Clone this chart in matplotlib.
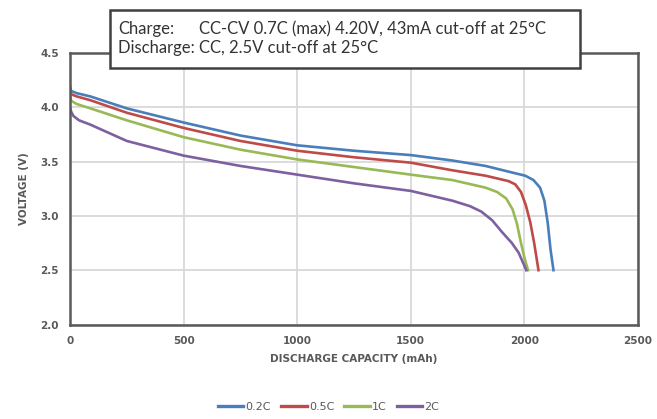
import matplotlib
matplotlib.use("Agg")
import matplotlib.pyplot as plt
from matplotlib.patches import Rectangle

# Data
cap_02c = [0, 5, 30, 90, 250, 500, 750, 1000, 1250, 1500, 1683, 1829, 1945, 2004, 2040, 2069, 2088, 2103, 2115, 2128]
v_02c = [4.19, 4.15, 4.13, 4.10, 3.99, 3.86, 3.74, 3.65, 3.60, 3.56, 3.51, 3.46, 3.40, 3.37, 3.33, 3.26, 3.14, 2.93, 2.69, 2.50]

cap_05c = [0, 5, 30, 90, 250, 500, 750, 1000, 1250, 1500, 1683, 1829, 1931, 1960, 1985, 2006, 2026, 2043, 2062]
v_05c = [4.17, 4.12, 4.10, 4.065, 3.95, 3.81, 3.69, 3.60, 3.54, 3.49, 3.42, 3.37, 3.32, 3.29, 3.22, 3.10, 2.94, 2.75, 2.50]

cap_1c = [0, 5, 30, 90, 250, 500, 750, 1000, 1250, 1500, 1683, 1829, 1880, 1920, 1948, 1967, 1985, 2002, 2016]
v_1c = [4.13, 4.06, 4.03, 3.99, 3.88, 3.725, 3.61, 3.52, 3.45, 3.38, 3.33, 3.26, 3.22, 3.16, 3.06, 2.93, 2.75, 2.60, 2.50]

cap_2c = [0, 5, 15, 40, 90, 250, 500, 750, 1000, 1250, 1500, 1683, 1760, 1810, 1858, 1902, 1945, 1975, 1998, 2008]
v_2c = [4.00, 3.96, 3.92, 3.88, 3.84, 3.69, 3.555, 3.46, 3.38, 3.30, 3.23, 3.14, 3.09, 3.04, 2.96, 2.85, 2.75, 2.66, 2.55, 2.50]

labels = ["0.2C", "0.5C", "1C", "2C"]
colors = ["#4A7EBB", "#BE4B48", "#98B954", "#7D60A0"]

x_ticks = [0, 500, 1000, 1500, 2000, 2500]
y_ticks = [2.0, 2.5, 3.0, 3.5, 4.0, 4.5]

W, H = 657, 419
fig = plt.figure(figsize=(W / 100, H / 100), dpi=100)
ax = fig.add_axes([70 / W, 1 - 324.5 / H, (638 - 70) / W, (324.5 - 53) / H])

for cap, v, lab, c in zip([cap_02c, cap_05c, cap_1c, cap_2c],
                          [v_02c, v_05c, v_1c, v_2c], labels, colors):
    ax.plot(cap, v, color=c, lw=1.9, label=lab, solid_joinstyle="round")

ax.set_xlim(0, 2500)
ax.set_ylim(2.0, 4.5)
ax.set_xticks(x_ticks)
ax.set_yticks(y_ticks)
ax.set_yticklabels([f"{t:.1f}" for t in y_ticks])
ax.grid(True, color="#D9D9D9", lw=1.3)
ax.set_axisbelow(True)
for s in ax.spines.values():
    s.set_color("#595959")
    s.set_linewidth(1.8)
ax.tick_params(axis="both", length=0, pad=8, labelsize=7.5, labelcolor="#595959")
for t in ax.get_xticklabels() + ax.get_yticklabels():
    t.set_fontweight("bold")

ax.set_xlabel("DISCHARGE CAPACITY (mAh)", fontsize=7.5, fontweight="bold", color="#595959", labelpad=6)
ax.set_ylabel("VOLTAGE (V)", fontsize=7.5, fontweight="bold", color="#595959", labelpad=8)

leg = fig.legend(loc="center", bbox_to_anchor=(0.5, 1 - 407 / H), ncol=4, frameon=False,
                 fontsize=8, handlelength=2.3, handletextpad=0.2, columnspacing=0.9)
for t in leg.get_texts():
    t.set_color("#595959")
for h in leg.get_lines():
    h.set_linewidth(2.4)

# annotation box
box = Rectangle((110 / W, 1 - 68 / H), (580 - 110) / W, (68 - 10) / H, transform=fig.transFigure,
                facecolor="white", edgecolor="#404040", lw=1.8, zorder=5)
fig.patches.append(box)
fam = ["Lato", "DejaVu Sans"]
fs = 12
fig.text(118 / W, 1 - 29 / H, "Charge:", fontsize=fs, family=fam, color="#333333", va="center", zorder=6)
fig.text(118 / W, 1 - 48 / H, "Discharge: CC, 2.5V cut-off at 25°C", fontsize=fs, family=fam,
         color="#333333", va="center", zorder=6)
# align CC-CV with the "CC," of the second line
probe = fig.text(118 / W, 1 - 48 / H, "Discharge: C", fontsize=fs, family=fam, va="center", alpha=0)
probe2 = fig.text(118 / W, 1 - 48 / H, "C", fontsize=fs, family=fam, va="center", alpha=0)
fig.canvas.draw()
r = fig.canvas.get_renderer()
x_cc = 118 + probe.get_window_extent(r).width - probe2.get_window_extent(r).width
probe.remove()
probe2.remove()
fig.text(x_cc / W, 1 - 29 / H, "CC-CV 0.7C (max) 4.20V, 43mA cut-off at 25°C", fontsize=fs, family=fam,
         color="#333333", va="center", zorder=6)

fig.savefig("out.png", dpi=100, facecolor="white")
